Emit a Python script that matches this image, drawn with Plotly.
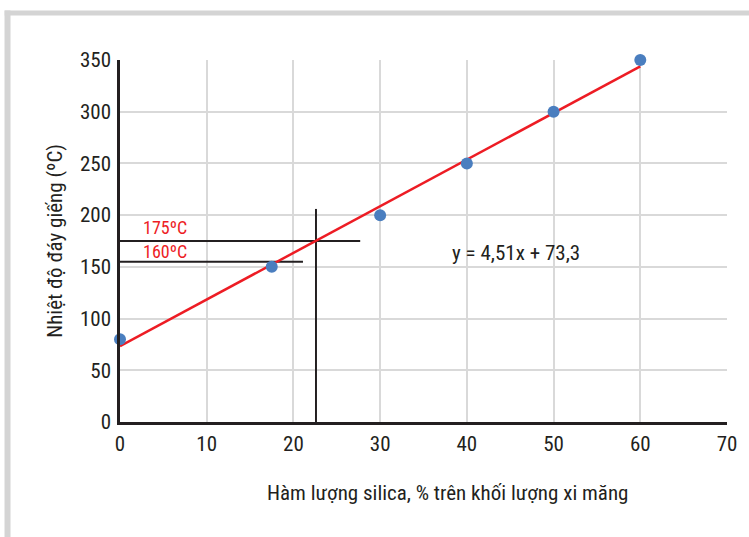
import plotly.graph_objects as go

# data
silica = [0, 17.5, 30, 40, 50, 60]
temp = [80, 150, 200, 250, 300, 350]
slope, intercept = 4.51, 73.3
fit_x = [0, 60]
fit_y = [intercept + slope * v for v in fit_x]

h175_x = [0, 27.7]; h175_y = [175, 175]
h160_x = [0, 21.1]; h160_y = [155, 155]
v_x = [22.6, 22.6]; v_y = [0, 206]

x_ticks = [0, 10, 20, 30, 40, 50, 60, 70]
y_ticks = [0, 50, 100, 150, 200, 250, 300, 350]

FONT = "Liberation Sans Narrow, Roboto Condensed, DejaVu Sans Condensed, Arial Narrow, Roboto, sans-serif"
TXT = "#231f20"
RED = "#ed1c24"

fig = go.Figure()
for xs, ys in [(h175_x, h175_y), (h160_x, h160_y), (v_x, v_y)]:
    fig.add_trace(go.Scatter(x=xs, y=ys, mode="lines",
                             line=dict(color=TXT, width=2), hoverinfo="skip"))
fig.add_trace(go.Scatter(x=fit_x, y=fit_y, mode="lines",
                         line=dict(color=RED, width=2.5)))
fig.add_trace(go.Scatter(x=silica, y=temp, mode="markers", cliponaxis=False,
                         marker=dict(color="#4a7ebf", size=12)))

fig.add_annotation(x=5.2, y=188, text="175ºC", showarrow=False,
                   font=dict(family=FONT, size=18, color=RED))
fig.add_annotation(x=5.2, y=165, text="160ºC", showarrow=False,
                   font=dict(family=FONT, size=18, color=RED))
fig.add_annotation(x=45.7, y=163, text="y = 4,51x + 73,3", showarrow=False,
                   font=dict(family=FONT, size=21, color=TXT))
fig.add_annotation(xref="paper", yref="paper", x=0.54, y=-0.197, yanchor="middle",
                   text="Hàm lượng silica, % trên khối lượng xi măng", showarrow=False,
                   font=dict(family=FONT, size=21, color=TXT))

# gray frame
fig.add_shape(type="line", xref="paper", yref="paper", x0=-0.1853, x1=-0.1853,
              y0=-0.5, y1=1.137, line=dict(color="#d4d4d4", width=6))
fig.add_shape(type="line", xref="paper", yref="paper", x0=-0.19, x1=1.2,
              y0=1.13, y1=1.13, line=dict(color="#d4d4d4", width=5))

fig.update_layout(
    width=749, height=537,
    margin=dict(l=120, r=22, t=60, b=115),
    paper_bgcolor="white", plot_bgcolor="white",
    showlegend=False,
    font=dict(family=FONT, size=21, color=TXT),
    xaxis=dict(range=[0, 70], tickvals=x_ticks, showgrid=True,
               gridcolor="#d9d9d9", gridwidth=2, zeroline=False,
               showline=True, linecolor=TXT, linewidth=2.5,
               ticks="", ticklabelstandoff=1),
    yaxis=dict(range=[0, 350], tickvals=y_ticks, showgrid=True,
               gridcolor="#d9d9d9", gridwidth=2, zeroline=False,
               showline=True, linecolor=TXT, linewidth=2.5,
               ticks="", ticklabelstandoff=2,
               title=dict(text="Nhiệt độ đáy giếng (ºC)", standoff=12,
                          font=dict(size=21))),
)

fig.write_html("out.html")
